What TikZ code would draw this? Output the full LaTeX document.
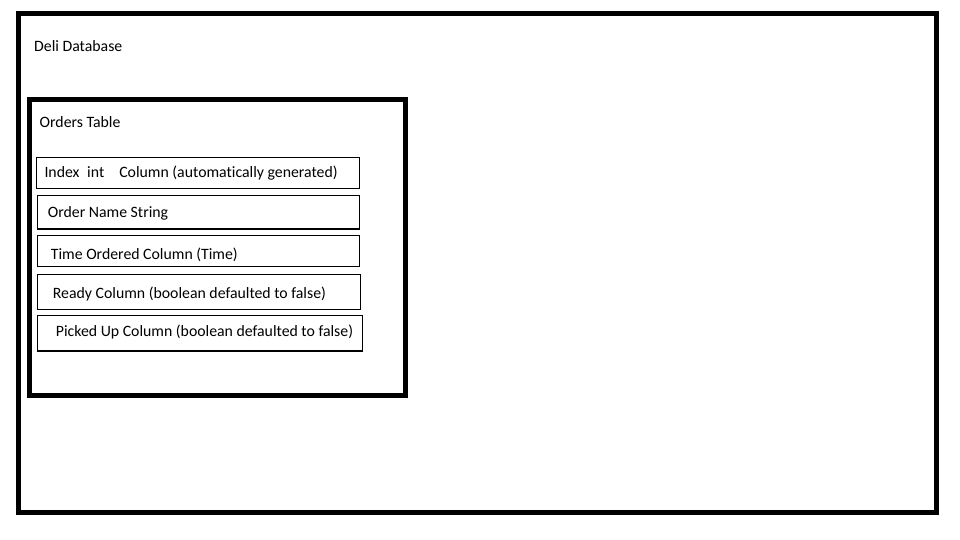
\documentclass[tikz,border=0pt]{standalone}
\usepackage{fontspec}
\setmainfont{Carlito}[Ligatures={NoCommon}]
\begin{document}
\begin{tikzpicture}[x=1pt,y=-1pt,
  frame/.style={draw=black,line width=5pt,fill=none},
  rowbox/.style={draw=black,line width=1.3pt,fill=none},
  txt/.style={anchor=base west,inner sep=0pt,font=\fontsize{15.8}{18}\selectfont,text=black}]
\useasboundingbox (0,0) rectangle (960,540);
% database and table frames
\draw[frame] (18.5,13.5) rectangle (936.5,512.5);
\draw[frame] (29.5,99.5) rectangle (405,395.5);
% column boxes
\draw[rowbox] (36.7,157.3) rectangle (359.3,188.3);
\draw[rowbox] (37.3,195.7) rectangle (359.3,229);
\draw[rowbox] (37.3,235.7) rectangle (359.3,266.7);
\draw[rowbox] (37.3,274.3) rectangle (360.3,309.3);
\draw[rowbox] (37.3,315.7) rectangle (362.7,351);
% titles
\node[txt] (db) at (34,52) {Deli Database};
\node[txt] (tbl) at (39.5,128) {Orders Table};
% column texts
\node[txt] (c1) at (44.3,177.3) {Index\hspace{7.7pt}int\hspace{15pt}Column (automatically generated)};
\node[txt] (c2) at (47.7,217.7) {Order Name String};
\node[txt] (c3) at (50.7,259.3) {Time Ordered Column (Time)};
\node[txt] (c4) at (52.7,298) {Ready Column (boolean defaulted to false)};
\node[txt] (c5) at (55.7,336.7) {Picked Up Column (boolean defaulted to false)};
\end{tikzpicture}
\end{document}
